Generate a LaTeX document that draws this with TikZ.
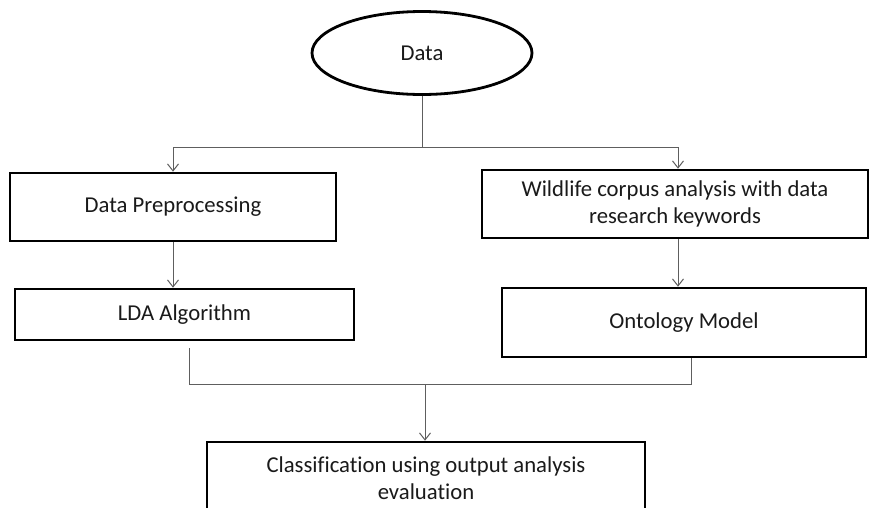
\documentclass[tikz,border=0pt]{standalone}
\usepackage{fontspec}
\setmainfont{Carlito}[Ligatures={NoCommon}]
\usetikzlibrary{shapes.geometric,arrows.meta,calc}
\definecolor{conncol}{HTML}{5E5E5E}
\definecolor{textcol}{HTML}{1A1A1A}
\tikzset{
  box/.style={draw=black, line width=2.6pt, rectangle, inner sep=0pt, align=center, font=\fontsize{22.7}{26.5}\selectfont, text=textcol},
  oval/.style={draw=black, line width=2.8pt, ellipse, inner sep=0pt, font=\fontsize{22.7}{26.5}\selectfont, text=textcol},
  conn/.style={draw=conncol, line width=1pt},
  arr/.style={conn, -{Straight Barb[length=7pt,width=11pt,line width=1pt]}}
}
\begin{document}
\begin{tikzpicture}[x=1pt,y=-1pt]
\clip (0,0) rectangle (870,507);
\fill[white] (0,0) rectangle (870,507);
\node[oval, minimum width=220, minimum height=83] (data) at (422,53) {Data};
\node[box, minimum width=326, minimum height=68] (pre) at (173,207) {Data Preprocessing};
\node[box, minimum width=386, minimum height=68] (wild) at (675,204) {Wildlife corpus analysis with data\\research keywords};
\node[box, minimum width=339, minimum height=51] (lda) at (184.5,314.5) {LDA Algorithm};
\node[box, minimum width=364, minimum height=69] (ont) at (684,322.5) {Ontology Model};
\node[box, minimum width=438, minimum height=72] (cls) at (426,478) {Classification using output analysis\\evaluation};
\coordinate (split) at (422,147);
\coordinate (jl) at (189,384);
\coordinate (jm) at (425,384);
\coordinate (jr) at (691,384);
\draw[conn] (data.south) -- (split);
\draw[arr] (split) -| (pre.north);
\draw[arr] (split) -| ($(wild.north)+(3,0)$);
\draw[arr] (pre.south) -- (pre.south |- lda.north);
\draw[arr] ($(wild.south)+(3,0)$) -- ($(wild.south |- ont.north)+(3,0)$);
\draw[conn] ($(lda.south -| jl)+(0,7)$) -- (jl) -- (jr) -- (ont.south -| jr);
\draw[arr] (jm) -- (jm |- cls.north);
\end{tikzpicture}
\end{document}
